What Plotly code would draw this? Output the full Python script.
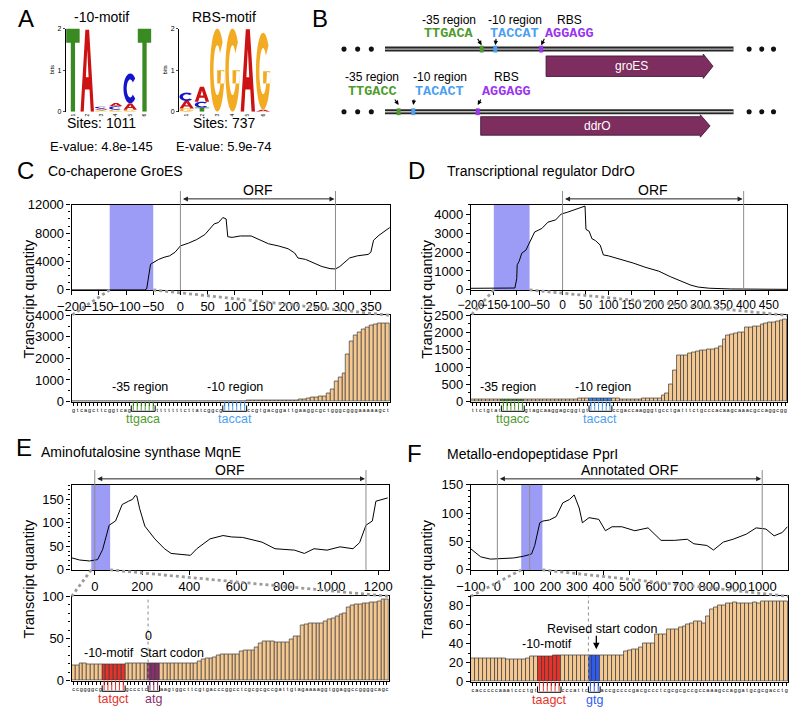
import numpy as np
import plotly.graph_objects as go

W, H = 799, 713
FONT = "Arial, Liberation Sans, Helvetica, sans-serif"
MONO = "Liberation Mono, Courier New, monospace"

# ======================= DATA =======================
# ---- A: sequence logos (letters stacked bottom -> top, heights in bits)
logo_positions = [1, 2, 3, 4, 5, 6]
logo10_letters = [["T"], ["A"], ["G", "T", "A", "C"], ["G", "C", "A"], ["G", "A", "C"], ["T"]]
logo10_bits = [[2.0], [1.97], [0.03, 0.02, 0.03, 0.04], [0.05, 0.08, 0.08], [0.05, 0.15, 0.72], [2.0]]
rbs_letters = [["G", "A", "C"], ["T", "C", "A"], ["G"], ["G"], ["A"], ["A", "G"]]
rbs_bits = [[0.08, 0.18, 0.20], [0.10, 0.14, 0.36], [2.0], [2.0], [1.98], [0.05, 1.85]]

# ---- B: promoter schematic
b_rows_y = [43, 107]
b_region_names = ["-35 region", "-10 region", "RBS"]
b_motif_seqs = [["TTGACA", "TACCAT", "AGGAGG"], ["TTGACC", "TACACT", "AGGAGG"]]
b_mark_x = [[478, 492, 539], [393, 408, 474]]
b_label_x = [[445, 512, 568], [366, 435, 503]]
b_label_dy = [[-30, -16], [-35, -21]]
b_arrow_dy = [[-12, -4], [-14, -7]]
b_genes = ["groES", "ddrO"]
b_gene_span = [[544, 715], [477, 712]]
b_gene_body = [[50, 71], [112, 131]]
b_dna_span = [379, 736]
b_dots_x = [337, 351, 365, 752, 765, 777]

# ---- C: GroES
groes_pos = [-200, -150, -100, -66, -62, -58, -55, -51, -40, -30, -20, -10, 0, 15, 30, 45, 54, 62, 70, 78, 84, 87,
             95, 110, 130, 139, 150, 162, 180, 198, 210, 216, 230, 246, 260, 275, 285, 293, 300, 311, 325, 345,
             350, 355, 365, 375, 385]
groes_qty = [0, 0, 0, 0, 150, 2500, 3600, 3800, 4300, 4600, 4800, 5300, 6200, 6600, 7100, 7800, 8600, 9300, 9500,
             10200, 10000, 7500, 7400, 7600, 7600, 7300, 6900, 6500, 6200, 5800, 5200, 4500, 4300, 3800, 3300, 3000,
             2950, 3300, 3800, 4500, 4800, 5000, 5300, 7000, 7700, 8300, 8800]
groes_band = [-130, -50]
groes_orf = [0, 285]
groes_seq_parts = ["gtcagcttcggtcag", "ttgaca", "tttttttcttatcggcg", "taccat",
                   "ccgtgacggattgaaggcgctgggcgggaaaaagct"]
groes_bar_qty = [10, 10, 10, 10, 10, 10, 10, 10, 10, 10, 10, 10, 10, 15, 20,
                 30, 30, 30, 30, 30, 30,
                 20, 20, 20, 20, 20, 20, 20, 20, 20, 20, 20, 25, 25, 30, 30, 30, 30,
                 30, 30, 30, 30, 30, 30,
                 35, 35, 35, 40, 40, 40, 45, 45, 50, 50, 55, 60,
                 70, 90, 110, 140, 170, 200, 230, 260, 400, 560, 950, 1100, 1330, 2200, 2780, 3080, 3220, 3360,
                 3450, 3520, 3580, 3620, 3640, 3650]

# ---- D: DdrO
ddro_pos = [-200, -150, -104, -100, -99, -95, -89, -80, -72, -61, -45, -32, -15, -3, 10, 25, 45, 49, 51, 58, 64,
            72, 82, 89, 100, 118, 135, 154, 180, 210, 235, 260, 280, 296, 320, 367, 420, 490]
ddro_qty = [85, 90, 100, 600, 1330, 1500, 1940, 2100, 2540, 3060, 3250, 3580, 3700, 4010, 4100, 4240, 4410, 4430,
            3200, 3100, 2710, 2600, 2370, 1850, 1800, 1680, 1550, 1420, 1200, 990, 700, 470, 250, 150, 90, 50, 35, 30]
ddro_band = [-150, -72]
ddro_orf = [0, 395]
ddro_seq_parts = ["ttctgtat", "ttgacc", "gtagcaaggagcggtgt", "tacact",
                  "ccgaccaagggtgcctgatttctgcccacaagcaaacgccaggcgg"]
ddro_bar_qty = [65, 65, 65, 65, 65, 65, 65, 65,
                65, 65, 65, 65, 65, 65,
                65, 65, 65, 65, 65, 65, 65, 65, 65, 65, 65, 65, 65, 65, 100, 100, 100,
                100, 100, 100, 100, 100, 100,
                80, 80, 75, 75, 75, 75, 75, 75, 80, 85, 90,
                95, 100, 190, 250, 500, 900, 1330, 1330, 1350, 1400, 1420, 1450, 1470, 1490, 1520, 1520, 1540,
                1600, 1790, 1910, 1960, 1975, 2000, 2020, 2150, 2150, 2170, 2190, 2230, 2280, 2300, 2310, 2340,
                2360, 2380]

# ---- E: MqnE
mqne_pos = [-100, -64, -22, 0, 12, 33, 61, 88, 116, 143, 160, 171, 178, 190, 212, 254, 295, 323, 360, 405, 432,
            488, 543, 580, 626, 708, 763, 800, 846, 887, 928, 983, 1038, 1093, 1121, 1148, 1175, 1190, 1240]
mqne_qty = [26, 21, 19, 20, 22, 43, 95, 104, 139, 146, 150, 158, 157, 130, 93, 66, 45, 35, 33, 31, 45, 66, 73, 70,
            69, 59, 45, 44, 42, 35, 45, 42, 49, 45, 58, 95, 104, 146, 153]
mqne_band = [-15, 65]
mqne_orf = [0, 1148]
mqne_seq_parts = ["ccggggcg", "tatgct", "gccctc", "atg",
                  "aagtggcttcgtgacccggcctcgcgcgccgattgtagaaaaggtggaggccggggcagc"]
mqne_bar_qty = [18, 18, 20, 20, 19, 19, 19, 19,
                19, 19, 19, 19, 19, 19,
                20, 20, 20, 20, 20, 21,
                21, 21, 21,
                21, 21, 21, 21, 21, 21, 21, 21, 21, 21,
                23, 25, 26, 26, 27, 30, 31, 31, 31, 31, 31, 35, 36, 36, 36, 40, 44, 46, 47, 46, 45, 45, 45, 45,
                49, 53, 53, 65, 67, 68, 68, 68, 68, 70, 73, 74, 76, 79, 80, 87, 89, 90, 91, 92, 92, 93, 93, 94,
                96, 97]

# ---- F: PprI
ppri_pos = [-100, -63, -26, 24, 61, 98, 129, 141, 160, 172, 197, 222, 247, 272, 290, 309, 321, 346, 383, 408, 433,
            470, 519, 569, 594, 618, 668, 717, 742, 791, 816, 853, 890, 940, 977, 1014, 1045, 1076, 1095]
ppri_qty = [37, 23, 19, 19.5, 21, 24, 28, 43, 83, 86, 88, 94, 118, 124, 132, 109, 83, 92, 89, 69, 76, 76, 69, 74,
            63, 52, 52, 54, 46, 43, 35, 49, 54, 63, 74, 72, 60, 66, 76]
ppri_band = [90, 170]
ppri_orf = [0, 1000]
ppri_revised_start = 122
ppri_seq_parts = ["cacccccaaatccctgt", "taagct", "cccattc", "gtg",
                  "accgccccgacgccctcgcgcgccgccaaagccaggatgcgcgacctg"]
ppri_bar_qty = [24, 24, 24, 24, 24, 24, 25, 25, 25, 23, 23, 23, 23, 23, 25, 27, 27,
                27, 27, 27, 27, 28, 28,
                28, 28, 28, 28, 28, 28, 28,
                28, 28, 28,
                28, 28, 28, 28, 28, 28,
                32, 33, 34, 34, 36, 40, 40, 40, 50, 50, 50, 55, 55, 55, 57, 58, 60, 62, 64, 64, 61, 69, 76, 78,
                80, 81, 83, 83, 84, 83, 83, 83, 83, 84, 83, 85, 85, 85, 85, 85, 85, 85]

# ======================= STYLE =======================
LETTER_COLORS = {"A": "#cc1212", "C": "#1414cc", "G": "#f2ab22", "T": "#3a8a22"}
BAR_FILL = "#f5c892"
BAR_EDGE = "#3a3a3a"
BAND = "#9c9cf6"
GREEN = "#4f9b2d"
LBLUE = "#4d9ff2"
PURPLE = "#9a34f0"
RED = "#e5322a"
MAUVE = "#8a2f6c"
BLUE = "#2f5cf0"
GENE = "#7d2d5e"

fig = go.Figure()
shapes, annots = [], []
layout = {}
axis_n = [0]

FRAME = dict(showline=True, linecolor="black", linewidth=1.3, mirror=True, showgrid=False, zeroline=False,
             ticks="outside", tickcolor="black", ticklen=4, tickwidth=1, fixedrange=True, tickformat="d")


def new_axes(box, xr, yr, xkw, ykw):
    axis_n[0] += 1
    n = axis_n[0]
    s = "" if n == 1 else str(n)
    l, r, t, b = box
    layout["xaxis" + s] = dict(domain=[l / W, r / W], range=xr, anchor="y" + s, **xkw)
    layout["yaxis" + s] = dict(domain=[1 - b / H, 1 - t / H], range=yr, anchor="x" + s, **ykw)
    return "x" + s, "y" + s


def ptext(text, px, py, size=13, color="black", anchor="center", angle=0, family=FONT):
    annots.append(dict(xref="paper", yref="paper", x=px / W, y=1 - py / H, text=text, showarrow=False,
                       xanchor=anchor, yanchor="middle", textangle=angle,
                       font=dict(size=size, color=color, family=family)))


# ---------------- letters for logos ----------------
def letter_polys(ch):
    if ch == "T":
        return [[(0, 1), (1, 1), (1, 0.83), (0.66, 0.83), (0.66, 0), (0.34, 0), (0.34, 0.83), (0, 0.83)]]
    if ch == "A":
        return [[(0, 0), (0.36, 1), (0.64, 1), (1, 0), (0.76, 0), (0.67, 0.27), (0.33, 0.27), (0.24, 0)],
                [(0.40, 0.42), (0.60, 0.42), (0.5, 0.76)]]
    ang = np.radians(np.linspace(42, 318 if ch == "C" else 358, 40))
    outer = [(0.5 + 0.5 * np.cos(a), 0.5 + 0.5 * np.sin(a)) for a in ang]
    inner = [(0.5 + 0.26 * np.cos(a), 0.5 + 0.30 * np.sin(a)) for a in ang[::-1]]
    polys = [outer + inner]
    if ch == "G":
        polys.append([(0.5, 0.34), (1.0, 0.34), (1.0, 0.5), (0.5, 0.5)])
    return polys


def path_str(polys, x0, w, y0, h):
    s = ""
    for poly in polys:
        pts = [(x0 + u * w, y0 + v * h) for u, v in poly]
        s += "M" + " L".join(f"{x:.4f},{y:.4f}" for x, y in pts) + " Z "
    return s


def draw_logo(box, letters, bits, title, sites, evalue, cx):
    xa, ya = new_axes(box, [0.5, 6.5], [0, 2],
                      dict(showline=False, showgrid=False, zeroline=False, ticks="", tickvals=logo_positions,
                           ticktext=[str(p) for p in logo_positions], tickfont=dict(size=5), tickangle=-90,
                           fixedrange=True),
                      dict(showline=True, linecolor="black", linewidth=1, showgrid=False, zeroline=False,
                           ticks="outside", ticklen=2, tickvals=[0, 1, 2], tickfont=dict(size=7),
                           fixedrange=True))
    for i, (ls, bs) in enumerate(zip(letters, bits)):
        p = logo_positions[i]
        y0 = 0
        for ch, bv in zip(ls, bs):
            shapes.append(dict(type="path", xref=xa, yref=ya, path=path_str(letter_polys(ch), p - 0.47, 0.94, y0, bv),
                               fillcolor=LETTER_COLORS[ch], line=dict(width=0), layer="above"))
            y0 += bv
    ptext("bits", box[0] - 14, (box[2] + box[3]) / 2, size=6, angle=-90)
    ptext(title, cx, 10, size=14)
    ptext(sites, cx, 119, size=14)
    ptext(evalue, cx, 142, size=13)


draw_logo((52, 140, 22, 107), logo10_letters, logo10_bits, "-10-motif", "Sites: 1011", "E-value: 4.8e-145", 89)
draw_logo((168, 262, 22, 107), rbs_letters, rbs_bits, "RBS-motif", "Sites: 737", "E-value: 5.9e-74", 214)


# ---------------- C-F panels ----------------
def xpx(v, box, xr):
    return box[0] + (v - xr[0]) / (xr[1] - xr[0]) * (box[1] - box[0])


def build_panel(c):
    l, r, t, b = c["top"]
    hpx = b - t
    xa, ya = new_axes(c["top"], c["xr"], c["yr"],
                      dict(FRAME, tick0=c["xtick0"], dtick=c["xdt"], tickfont=dict(size=c.get("xfs", 13)),
                           tickangle=0),
                      dict(FRAME, tick0=0, dtick=c["ydt"], tickfont=dict(size=13),
                           minor=dict(dtick=c["yminor"], ticks="outside", ticklen=2, tickcolor="black")))
    fig.add_trace(go.Scatter(x=c["pos"], y=c["qty"], mode="lines", line=dict(color="black", width=1),
                             xaxis=xa, yaxis=ya, hoverinfo="skip"))
    shapes.append(dict(type="rect", xref=xa, yref=ya + " domain", x0=c["band"][0], x1=c["band"][1], y0=0, y1=1,
                       fillcolor=BAND, line=dict(width=0), layer="below"))
    ext = 1 + (t - c["orf_line_top"]) / hpx
    for v in c["orf"]:
        shapes.append(dict(type="line", xref=xa, yref=ya + " domain", x0=v, x1=v, y0=0, y1=ext,
                           line=dict(color="#8c8c8c", width=1)))
    if c.get("extra_line") is not None:
        v = c["extra_line"]
        shapes.append(dict(type="line", xref=xa, yref=ya + " domain", x0=v, x1=v, y0=0, y1=1,
                           line=dict(color="#8c8c8c", width=1)))
    ay = 1 + (t - c["orf_arrow_y"]) / hpx
    annots.append(dict(xref=xa, yref=ya + " domain", x=c["orf"][1], y=ay, axref=xa, ayref=ya + " domain",
                       ax=c["orf"][0], ay=ay, text="", showarrow=True, arrowhead=2, arrowside="end+start",
                       arrowsize=1, arrowwidth=1, arrowcolor="#222", standoff=1, startstandoff=1))
    annots.append(dict(xref=xa, yref=ya + " domain", x=(c["orf"][0] + c["orf"][1]) / 2,
                       y=1 + (t - c["orf_text_y"]) / hpx, text=c["orf_label"], showarrow=False,
                       xanchor="center", yanchor="middle", font=dict(size=14)))

    # bottom bar plot
    seq = "".join(c["seq_parts"])
    starts = np.cumsum([0] + [len(p) for p in c["seq_parts"]])
    N = len(seq)
    assert N == len(c["bars"]), (c["key"], N, len(c["bars"]))
    colors = [BAR_FILL] * N
    blank = set()
    for k, mi in enumerate([1, 3]):
        for j in range(starts[mi], starts[mi + 1]):
            colors[j] = c["motif_bar_colors"][k]
            blank.add(j)
    ticktext = ["" if j in blank else ch for j, ch in enumerate(seq)]
    bl, br, bt, bb = c["bot"]
    bh = bb - bt
    xb, yb = new_axes(c["bot"], [-0.5, N - 0.5], c["byr"],
                      dict(FRAME, tickvals=list(range(N)), ticktext=ticktext, tickfont=dict(size=5.5),
                           ticklen=3, tickangle=0),
                      dict(FRAME, tick0=0, dtick=c["bydt"], tickfont=dict(size=13),
                           minor=dict(dtick=c["byminor"], ticks="outside", ticklen=2, tickcolor="black")))
    fig.add_trace(go.Bar(x=list(range(N)), y=c["bars"], width=1,
                         marker=dict(color=colors, line=dict(color=BAR_EDGE, width=0.7)),
                         xaxis=xb, yaxis=yb, hoverinfo="skip"))
    for k, mi in enumerate([1, 3]):
        x0 = starts[mi] - 0.5
        x1 = starts[mi + 1] - 0.5
        yt = -c["br_top"] / bh
        ybt = -c["br_bot"] / bh
        for j in range(starts[mi], starts[mi + 1]):
            shapes.append(dict(type="line", xref=xb, yref=yb + " domain", x0=j, x1=j, y0=0,
                               y1=-(c["br_bot"] - 1) / bh, line=dict(color=c["motif_text_colors"][k], width=1)))
        shapes.append(dict(type="path", xref=xb, yref=yb + " domain",
                           path=f"M{x0},{yt} L{x0},{ybt} L{x1},{ybt} L{x1},{yt}",
                           line=dict(color="black", width=1)))
        annots.append(dict(xref=xb, yref=yb + " domain", x=(x0 + x1) / 2, y=-c["text_off"] / bh,
                           text=c["seq_parts"][mi], showarrow=False, xanchor="center", yanchor="middle",
                           font=dict(size=12.5, color=c["motif_text_colors"][k])))
    if c.get("start_line"):
        xs = starts[3] - 0.5
        shapes.append(dict(type="line", xref=xb, yref=yb + " domain", x0=xs, x1=xs, y0=0, y1=1,
                           line=dict(color="#8c8c8c", width=1, dash="dot")))
    # zoom connectors
    for v, bx in [(c["band"][0], bl), (c["band"][1], br)]:
        shapes.append(dict(type="line", xref="paper", yref="paper", x0=xpx(v, c["top"], c["xr"]) / W,
                           y0=1 - b / H, x1=bx / W, y1=1 - bt / H,
                           line=dict(color="#9b9b9b", width=2.8, dash="dot")))
    for (txt, px, py) in c["labels"]:
        ptext(txt, px, py, size=12.5)
    ptext(c["letter"], c["letter_xy"][0], c["letter_xy"][1], size=24, anchor="center")
    ptext(c["title"], c["title_xy"][0], c["title_xy"][1], size=14, anchor="left")
    ptext("Transcript quantity", c["ylab_xy"][0], c["ylab_xy"][1], size=14.5, angle=-90)


panels = [
    dict(key="C", top=(58, 384, 202, 289), bot=(58, 384, 315, 403), pos=groes_pos, qty=groes_qty,
         xr=[-200, 385], yr=[0, 12000], xtick0=-200, xdt=50, ydt=4000, yminor=1000,
         band=groes_band, orf=groes_orf, orf_label="ORF", orf_line_top=188, orf_arrow_y=196, orf_text_y=187,
         seq_parts=groes_seq_parts, bars=groes_bar_qty, byr=[0, 4000], bydt=1000, byminor=500,
         motif_bar_colors=[GREEN, LBLUE], motif_text_colors=[GREEN, LBLUE], br_top=4, br_bot=10, text_off=17.5,
         labels=[("-35 region", 128, 388), ("-10 region", 225, 388)],
         letter="C", letter_xy=(11, 167), title="Co-chaperone GroES", title_xy=(32, 168), ylab_xy=(14, 298)),
    dict(key="D", top=(467, 791, 202, 289), bot=(467, 791, 315, 403), pos=ddro_pos, qty=ddro_qty,
         xr=[-200, 490], yr=[0, 4500], xtick0=-200, xdt=50, ydt=1000, yminor=500, xfs=12,
         band=ddro_band, orf=ddro_orf, orf_label="ORF", orf_line_top=188, orf_arrow_y=196, orf_text_y=187,
         seq_parts=ddro_seq_parts, bars=ddro_bar_qty, byr=[0, 2500], bydt=500, byminor=250,
         motif_bar_colors=[GREEN, "#4088e8"], motif_text_colors=[GREEN, LBLUE], br_top=4, br_bot=10,
         text_off=17.5, labels=[("-35 region", 505, 388), ("-10 region", 602, 388)],
         letter="D", letter_xy=(411, 167), title="Transcriptional regulator DdrO", title_xy=(440, 168),
         ylab_xy=(422, 298)),
    dict(key="E", top=(58, 383, 488, 575), bot=(58, 383, 602, 688), pos=mqne_pos, qty=mqne_qty,
         xr=[-98, 1245], yr=[0, 181], xtick0=0, xdt=200, ydt=50, yminor=10,
         band=mqne_band, orf=mqne_orf, orf_label="ORF", orf_line_top=473, orf_arrow_y=482, orf_text_y=473,
         seq_parts=mqne_seq_parts, bars=mqne_bar_qty, byr=[0, 100], bydt=50, byminor=10,
         motif_bar_colors=[RED, MAUVE], motif_text_colors=[RED, MAUVE], br_top=5, br_bot=11, text_off=19,
         start_line=True,
         labels=[("-10-motif", 96, 660), ("0", 136.5, 643), ("Start codon", 161, 660)],
         letter="E", letter_xy=(9, 450), title="Aminofutalosine synthase MqnE", title_xy=(25, 455),
         ylab_xy=(14, 584)),
    dict(key="F", top=(467, 792, 488, 575), bot=(467, 792, 602, 689), pos=ppri_pos, qty=ppri_qty,
         xr=[-100, 1098], yr=[0, 150], xtick0=-100, xdt=100, ydt=50, yminor=10,
         band=ppri_band, orf=ppri_orf, orf_label="Annotated ORF", orf_line_top=473, orf_arrow_y=482,
         orf_text_y=473, extra_line=ppri_revised_start,
         seq_parts=ppri_seq_parts, bars=ppri_bar_qty, byr=[0, 90], bydt=20, byminor=10,
         motif_bar_colors=[RED, BLUE], motif_text_colors=[RED, BLUE], br_top=5, br_bot=11, text_off=19,
         start_line=True,
         labels=[("-10-motif", 545, 651), ("Revised start codon", 602, 635)],
         letter="F", letter_xy=(409, 456), title="Metallo-endopeptidase PprI", title_xy=(440, 457),
         ylab_xy=(422, 584)),
]
for pcfg in panels:
    build_panel(pcfg)

# revised start codon arrow (F)
annots.append(dict(xref="paper", yref="paper", x=595.5 / W, y=1 - 656 / H, ax=0, ay=-15, axref="pixel",
                   ayref="pixel", text="", showarrow=True, arrowhead=2, arrowsize=1, arrowwidth=1.3,
                   arrowcolor="black"))

# ---------------- B: schematic on an overlay axis (pixel units) ----------------
xo, yo = new_axes((0, W, 0, H), [0, W], [H, 0], dict(visible=False, fixedrange=True),
                  dict(visible=False, fixedrange=True))
mark_colors = [GREEN, LBLUE, PURPLE]
for ri, ry in enumerate(b_rows_y):
    shapes.append(dict(type="line", xref=xo, yref=yo, x0=b_dna_span[0], x1=b_dna_span[1], y0=ry, y1=ry,
                       line=dict(color="#262626", width=5)))
    shapes.append(dict(type="line", xref=xo, yref=yo, x0=b_dna_span[0], x1=b_dna_span[1], y0=ry, y1=ry,
                       line=dict(color="#bdbdbd", width=1.3)))
    for dx in b_dots_x:
        shapes.append(dict(type="circle", xref=xo, yref=yo, x0=dx - 2.6, x1=dx + 2.6, y0=ry - 2.6, y1=ry + 2.6,
                           fillcolor="#111", line=dict(width=0)))
    for k in range(3):
        mx = b_mark_x[ri][k]
        shapes.append(dict(type="rect", xref=xo, yref=yo, x0=mx - 2, x1=mx + 2, y0=ry - 3.5, y1=ry + 3.5,
                           fillcolor=mark_colors[k], line=dict(width=0)))
        lx = b_label_x[ri][k]
        annots.append(dict(xref=xo, yref=yo, x=lx, y=ry + b_label_dy[ri][0], text=b_region_names[k],
                           showarrow=False, xanchor="center", yanchor="middle", font=dict(size=12)))
        annots.append(dict(xref=xo, yref=yo, x=lx, y=ry + b_label_dy[ri][1], text="<b>%s</b>" % b_motif_seqs[ri][k],
                           showarrow=False, xanchor="center", yanchor="middle",
                           font=dict(size=13.5, family=MONO, color=mark_colors[k])))
        tail_dx = [-5, 1, 4][k]
        annots.append(dict(xref=xo, yref=yo, x=mx, y=ry + b_arrow_dy[ri][1], axref=xo, ayref=yo,
                           ax=mx + tail_dx, ay=ry + b_arrow_dy[ri][0], text="", showarrow=True, arrowhead=2,
                           arrowsize=0.8, arrowwidth=1.1, arrowcolor="black", standoff=0))
    g0, g1 = b_gene_span[ri]
    yt, ybm = b_gene_body[ri]
    hx = g1 - 10
    ym = (yt + ybm) / 2
    shapes.append(dict(type="path", xref=xo, yref=yo,
                       path=f"M{g0},{yt} L{hx},{yt} L{hx},{yt - 2} L{g1},{ym} L{hx},{ybm + 2} L{hx},{ybm} L{g0},{ybm} Z",
                       fillcolor=GENE, line=dict(color="#3a1230", width=0.8)))
    annots.append(dict(xref=xo, yref=yo, x=(g0 + g1) / 2 + 2, y=ym, text=b_genes[ri], showarrow=False,
                       xanchor="center", yanchor="middle", font=dict(size=12, color="white")))

ptext("A", 11, 12, size=24)
ptext("B", 312, 12, size=24)

fig.update_layout(width=W, height=H, margin=dict(l=0, r=0, t=0, b=0), paper_bgcolor="white",
                  plot_bgcolor="rgba(0,0,0,0)", showlegend=False, bargap=0,
                  font=dict(family=FONT, size=12, color="black"),
                  shapes=shapes, annotations=annots, **layout)
fig.write_html("out.html")
